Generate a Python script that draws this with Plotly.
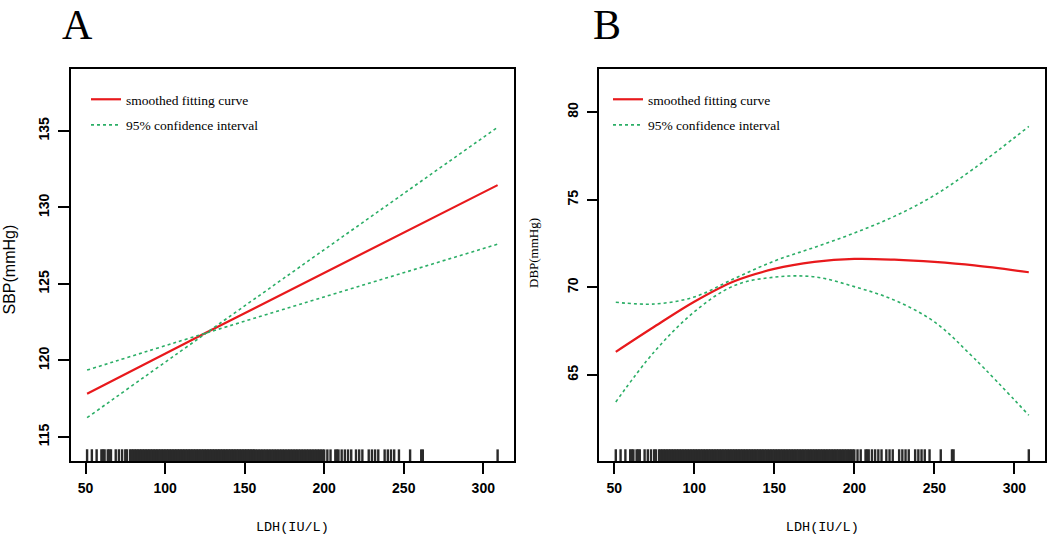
import plotly.graph_objects as go

# ---------------- data ----------------
# Panel A: SBP vs LDH (linear fit with 95% CI)
x_a = [51, 126, 309]
sbp_fit = [117.83, 121.83, 131.46]
sbp_ci_hi = [116.26, 121.80, 135.24]
sbp_ci_lo = [119.37, 121.80, 127.60]

# Panel B: DBP vs LDH (smoothed fit with 95% CI)
x_b = [51, 75, 100, 125, 150, 175, 200, 225, 250, 275, 309]
dbp_fit = [66.32, 67.75, 69.18, 70.35, 71.05, 71.45, 71.62, 71.58, 71.45, 71.25, 70.86]
dbp_ci_hi = [69.15, 69.05, 69.45, 70.50, 71.50, 72.28, 73.10, 74.05, 75.25, 76.80, 79.18]
dbp_ci_lo = [63.46, 66.32, 68.60, 70.10, 70.58, 70.60, 70.04, 69.27, 68.03, 65.94, 62.70]

# Observed LDH values (rug)
ldh_obs = [51, 54, 57, 60, 61, 62, 64, 65, 66, 69, 71, 73, 75, 76, 78, 79,
           80, 81, 82, 83, 84, 85, 86, 87, 88, 89, 90, 91, 92, 93, 94, 95, 96, 97, 98, 99,
           100, 101, 102, 103, 104, 105, 106, 107, 108, 109, 110, 111, 112, 113, 114, 115,
           116, 117, 118, 119, 120, 121, 122, 123, 124, 125, 126, 127, 128, 129, 130, 131,
           132, 133, 134, 135, 136, 137, 138, 139, 140, 141, 142, 143, 144, 145, 146, 147,
           148, 149, 150, 151, 152, 153, 154, 155, 156, 157, 158, 159, 160, 161, 162, 163,
           164, 165, 166, 167, 168, 169, 170, 171, 172, 173, 174, 175, 176, 177, 178, 179,
           180, 181, 182, 183, 184, 185, 186, 187, 188, 189, 190, 191, 192, 193, 194, 195,
           196, 197, 198, 199, 200,
           202, 204, 207, 208, 209, 211, 213, 215, 217, 220, 222, 224, 228, 230, 232, 234,
           238, 240, 242, 244, 247, 254, 261, 262, 309]

x_ticks = [50, 100, 150, 200, 250, 300]
y_ticks_a = [115, 120, 125, 130, 135]
y_ticks_b = [65, 70, 75, 80]

x_range = [40.7, 319.3]
y_range_a = [113.43, 139.05]
y_range_b = [60.09, 82.46]

RED = "#E8191C"
GREEN = "#2BAE66"

fig = go.Figure()


def rug_xy(vals, y0, y1):
    xs, ys = [], []
    for v in vals:
        xs += [v, v, None]
        ys += [y0, y1, None]
    return xs, ys


def add_panel(xs, fit, hi, lo, xa, ya, legend, rug_y0, rug_y1):
    fig.add_trace(go.Scatter(x=xs, y=fit, mode="lines", name="smoothed fitting curve",
                             line=dict(color=RED, width=2.2, shape="spline"),
                             xaxis=xa, yaxis=ya, legend=legend, legendgroup=legend + "a"))
    fig.add_trace(go.Scatter(x=xs, y=hi, mode="lines", name="95% confidence interval",
                             line=dict(color=GREEN, width=1.6, dash="dot", shape="spline"),
                             xaxis=xa, yaxis=ya, legend=legend, legendgroup=legend + "b"))
    fig.add_trace(go.Scatter(x=xs, y=lo, mode="lines", name="95% confidence interval",
                             line=dict(color=GREEN, width=1.6, dash="dot", shape="spline"),
                             xaxis=xa, yaxis=ya, showlegend=False, legendgroup=legend + "b"))
    rx, ry = rug_xy(ldh_obs, rug_y0, rug_y1)
    fig.add_trace(go.Scatter(x=rx, y=ry, mode="lines", showlegend=False,
                             line=dict(color="#2a2a2a", width=2.4),
                             xaxis=xa, yaxis=ya, hoverinfo="skip"))


add_panel(x_a, sbp_fit, sbp_ci_hi, sbp_ci_lo, "x", "y", "legend",
          y_range_a[0], y_range_a[0] + 0.76)
add_panel(x_b, dbp_fit, dbp_ci_hi, dbp_ci_lo, "x2", "y2", "legend2",
          y_range_b[0], y_range_b[0] + 0.67)

W, H = 1052, 537
tickfont = dict(family="Liberation Sans", size=14, color="black", weight="bold")
common_x = dict(range=x_range, tickvals=x_ticks, ticks="outside", ticklen=11, tickwidth=1.5,
                tickcolor="black", showline=True, linecolor="black", linewidth=1.6,
                mirror=True, showgrid=False, zeroline=False, tickfont=tickfont,
                ticklabelstandoff=2, automargin=False)
common_y = dict(ticks="outside", ticklen=11, tickwidth=1.5, tickcolor="black",
                showline=True, linecolor="black", linewidth=1.6, mirror=True,
                showgrid=False, zeroline=False, tickfont=tickfont, tickangle=-90,
                ticklabelstandoff=3, automargin=False)

ydom = [1 - 461 / H, 1 - 69 / H]
xtitle_font = dict(family="Liberation Mono", size=13.5, color="black")

fig.update_layout(
    width=W, height=H,
    margin=dict(l=0, r=0, t=0, b=0),
    paper_bgcolor="white", plot_bgcolor="white",
    xaxis=dict(domain=[70.7 / W, 514 / W], anchor="y",
               title=dict(text="LDH(IU/L)", standoff=27, font=xtitle_font), **common_x),
    yaxis=dict(domain=ydom, anchor="x", range=y_range_a, tickvals=y_ticks_a, **common_y),
    xaxis2=dict(domain=[599.3 / W, 1045.3 / W], anchor="y2",
                title=dict(text="LDH(IU/L)", standoff=27, font=xtitle_font), **common_x),
    yaxis2=dict(domain=ydom, anchor="x2", range=y_range_b, tickvals=y_ticks_b, **common_y),
    legend=dict(x=86 / W, y=1 - 84 / H, xanchor="left", yanchor="top",
                bgcolor="rgba(0,0,0,0)", traceorder="grouped", tracegroupgap=5,
                font=dict(family="Liberation Serif", size=13.5, color="black")),
    legend2=dict(x=608 / W, y=1 - 84 / H, xanchor="left", yanchor="top",
                 bgcolor="rgba(0,0,0,0)", traceorder="grouped", tracegroupgap=5,
                 font=dict(family="Liberation Serif", size=13.5, color="black")),
    annotations=[
        dict(text="A", x=77.5 / W, y=1, xref="paper", yref="paper",
             showarrow=False, xanchor="center", yanchor="top",
             font=dict(family="Liberation Serif", size=42, color="black")),
        dict(text="B", x=606.5 / W, y=1, xref="paper", yref="paper",
             showarrow=False, xanchor="center", yanchor="top",
             font=dict(family="Liberation Serif", size=42, color="black")),
        dict(text="SBP(mmHg)", x=8.5 / W, y=1 - 270 / H, xref="paper", yref="paper",
             showarrow=False, xanchor="center", yanchor="middle", textangle=-90,
             font=dict(family="Liberation Sans", size=16, color="black")),
        dict(text="DBP(mmHg)", x=533 / W, y=1 - 253 / H, xref="paper", yref="paper",
             showarrow=False, xanchor="center", yanchor="middle", textangle=-90,
             font=dict(family="Liberation Serif", size=13, color="black")),
    ],
)

fig.write_html("out.html", config={"displayModeBar": False},
               post_script="document.body.style.margin='0';")
